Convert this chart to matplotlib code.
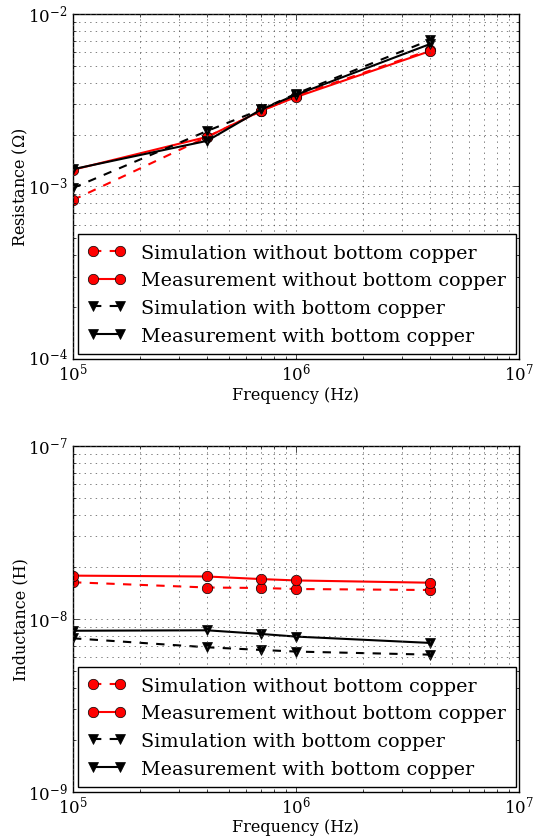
import numpy as np
import matplotlib
matplotlib.use('Agg')
from matplotlib import pyplot as plt
from matplotlib.ticker import NullFormatter

plt.style.use('classic')
plt.rcParams['font.family'] = ['DejaVu Serif']
plt.rcParams['mathtext.fontset'] = 'dejavuserif'

# frequencies (Hz)
freq = [1e5, 4e5, 7e5, 1e6, 4e6]

# resistance (Ohm)
res_sim_without = [8.35e-4, 1.94e-3, 2.74e-3, 3.35e-3, 6.18e-3]
res_meas_without = [1.25e-3, 1.94e-3, 2.75e-3, 3.30e-3, 6.10e-3]
res_sim_with = [9.8e-4, 2.10e-3, 2.80e-3, 3.45e-3, 7.07e-3]
res_meas_with = [1.26e-3, 1.84e-3, 2.80e-3, 3.40e-3, 6.70e-3]

# inductance (H)
ind_sim_without = [1.63e-8, 1.52e-8, 1.51e-8, 1.49e-8, 1.47e-8]
ind_meas_without = [1.78e-8, 1.76e-8, 1.70e-8, 1.67e-8, 1.62e-8]
ind_sim_with = [7.73e-9, 6.86e-9, 6.62e-9, 6.48e-9, 6.22e-9]
ind_meas_with = [8.55e-9, 8.6e-9, 8.19e-9, 7.91e-9, 7.27e-9]

labels = ['Simulation without bottom copper',
          'Measurement without bottom copper',
          'Simulation with bottom copper',
          'Measurement with bottom copper']

fig = plt.figure(figsize=(5.37, 8.37), dpi=100)
fig.patch.set_facecolor('white')

ax1 = fig.add_axes([0.136, 0.570, 0.830, 0.412])
ax2 = fig.add_axes([0.136, 0.0526, 0.830, 0.4134])


def draw(ax, data, ylabel, ylim, xlab_y):
    ax.loglog(freq, data[0], 'r--o', lw=1.5, ms=7.5, label=labels[0])
    ax.loglog(freq, data[1], 'r-o', lw=1.5, ms=7.5, label=labels[1])
    ax.loglog(freq, data[2], 'k--v', lw=1.5, ms=7.5, label=labels[2])
    ax.loglog(freq, data[3], 'k-v', lw=1.5, ms=7.5, label=labels[3])
    ax.set_xlim(1e5, 1e7)
    ax.set_ylim(*ylim)
    ax.grid(True, which='both', linestyle=':', color='0.3')
    ax.yaxis.set_minor_formatter(NullFormatter())
    ax.xaxis.set_minor_formatter(NullFormatter())
    ax.set_xlabel('Frequency (Hz)', fontsize=11.5)
    ax.set_ylabel(ylabel, fontsize=11.5)
    ax.xaxis.set_label_coords(0.5, xlab_y)
    ax.yaxis.set_label_coords(-0.097, 0.5)
    ax.tick_params(labelsize=12)
    ax.tick_params(axis='x', which='major', pad=2)
    ax.legend(loc='lower left', numpoints=2, fontsize=13.8, fancybox=False,
              borderaxespad=0.25, handlelength=2.0, labelspacing=0.5,
              borderpad=0.5)


draw(ax1, [res_sim_without, res_meas_without, res_sim_with, res_meas_with],
     'Resistance ($\\Omega$)', (1e-4, 1e-2), -0.08)
draw(ax2, [ind_sim_without, ind_meas_without, ind_sim_with, ind_meas_with],
     'Inductance (H)', (1e-9, 1e-7), -0.075)

fig.savefig('out.png', dpi=100, facecolor='white')
